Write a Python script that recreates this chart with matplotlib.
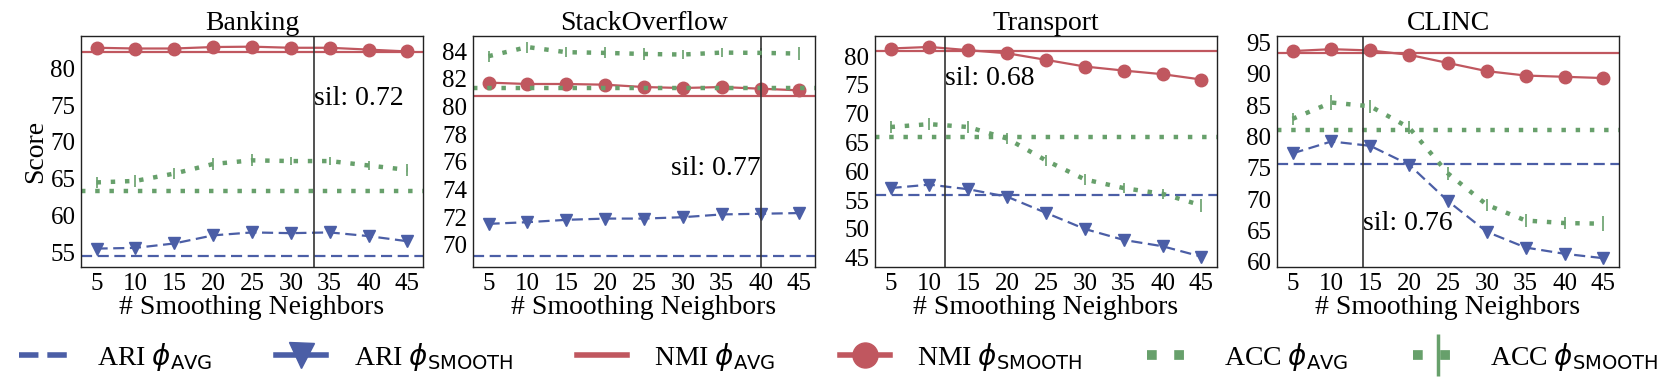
import matplotlib
matplotlib.use("Agg")
import matplotlib.pyplot as plt
from matplotlib.lines import Line2D
import numpy as np

plt.rcParams['font.family'] = ['Liberation Serif', 'DejaVu Sans']
plt.rcParams['mathtext.fontset'] = 'dejavusans'

# data
neighbors = [5, 10, 15, 20, 25, 30, 35, 40, 45]
datasets = ['Banking', 'StackOverflow', 'Transport', 'CLINC']

ari_avg = [54.45, 69.18, 55.9, 75.6]
nmi_avg = [82.27, 80.79, 80.98, 93.3]
acc_avg = [63.3, 81.32, 65.9, 81.0]

ari_smooth = [
    [55.5, 55.6, 56.2, 57.3, 57.7, 57.6, 57.7, 57.2, 56.5],
    [71.52, 71.64, 71.81, 71.9, 71.9, 72.0, 72.2, 72.25, 72.3],
    [57.1, 57.7, 56.9, 55.6, 52.8, 50.0, 48.1, 47.0, 45.2],
    [77.3, 79.2, 78.5, 75.5, 69.7, 64.8, 62.3, 61.3, 60.6],
]
nmi_smooth = [
    [82.8, 82.7, 82.7, 82.9, 82.95, 82.8, 82.8, 82.55, 82.3],
    [81.73, 81.63, 81.63, 81.58, 81.41, 81.34, 81.41, 81.29, 81.17],
    [81.33, 81.6, 81.04, 80.5, 79.36, 78.2, 77.5, 76.87, 75.94],
    [93.6, 93.9, 93.7, 93.0, 91.7, 90.4, 89.7, 89.5, 89.3],
]
acc_smooth = [
    [64.5, 64.7, 65.7, 67.0, 67.5, 67.4, 67.4, 66.8, 66.2],
    [83.64, 84.3, 83.93, 83.88, 83.8, 83.76, 83.9, 83.88, 83.83],
    [67.7, 68.2, 67.7, 65.7, 61.9, 58.6, 57.1, 56.1, 54.1],
    [82.8, 85.4, 84.8, 81.4, 74.1, 69.1, 66.6, 66.2, 66.1],
]
acc_err = [
    [0.8, 0.8, 0.7, 0.8, 0.8, 0.6, 0.6, 0.6, 0.8],
    [0.4, 0.4, 0.35, 0.4, 0.4, 0.35, 0.35, 0.35, 0.45],
    [1.0, 1.0, 1.0, 1.0, 1.0, 0.9, 0.9, 0.9, 1.1],
    [1.0, 1.2, 1.0, 1.0, 1.0, 1.0, 1.0, 1.0, 1.2],
]

sil_x = [33, 40, 12, 14]
sil_text = ['sil: 0.72', 'sil: 0.77', 'sil: 0.68', 'sil: 0.76']
sil_y = [0.70, 0.40, 0.79, 0.16]
sil_ha = ['left', 'right', 'left', 'left']

ylims = [(53.0, 84.4), (68.4, 85.1), (43.4, 83.5), (59.2, 96.0)]
yticks = [np.arange(55, 81, 5), np.arange(70, 85, 2), np.arange(45, 81, 5), np.arange(60, 96, 5)]

blue = '#4B5EA6'
red = '#C0575F'
green = '#67A06B'

fig = plt.figure(figsize=(16.78, 3.86), dpi=100)
lefts = [81, 473, 875, 1277]
w = 342 / 1678
bottom = 1 - 267 / 386
h = (267 - 36) / 386

for i, name in enumerate(datasets):
    ax = fig.add_axes([lefts[i] / 1678, bottom, w, h])
    ax.axhline(ari_avg[i], color=blue, ls='--', lw=1.6, dashes=(5, 2.5))
    ax.plot(neighbors, ari_smooth[i], color=blue, ls='--', lw=1.6, dashes=(5, 2.5),
            marker='v', markersize=9)
    ax.axhline(nmi_avg[i], color=red, lw=1.6)
    ax.plot(neighbors, nmi_smooth[i], color=red, lw=1.6, marker='o', markersize=9)
    ax.axhline(acc_avg[i], color=green, ls=(0, (1, 2.2)), lw=3.2)
    ax.errorbar(neighbors, acc_smooth[i], yerr=acc_err[i], color=green,
                ls=(0, (1, 2.2)), lw=3.2, elinewidth=1.2, capsize=0)
    ax.axvline(sil_x[i], color='#333333', lw=1.2)
    ax.text(sil_x[i], sil_y[i], sil_text[i], transform=ax.get_xaxis_transform(),
            ha=sil_ha[i], va='baseline', fontsize=20)

    ax.set_xlim(3, 47)
    ax.set_ylim(*ylims[i])
    ax.set_xticks(neighbors)
    ax.set_xticklabels([str(n) for n in neighbors])
    ax.set_yticks(yticks[i])
    ax.set_yticklabels([str(int(v)) for v in yticks[i]])
    ax.tick_params(length=0, labelsize=18, pad=4)
    ax.set_title(name, fontsize=20, pad=4)
    ax.set_xlabel('# Smoothing Neighbors', fontsize=20, labelpad=0)
    if i == 0:
        ax.set_ylabel('Score', fontsize=20, labelpad=2)
    for s in ax.spines.values():
        s.set_color('#222222')
        s.set_linewidth(1.0)

handles = [
    Line2D([], [], color=blue, ls='--', lw=4, dashes=(3.5, 1.6)),
    Line2D([], [], color=blue, ls='-', lw=4, marker='v', markersize=18),
    Line2D([], [], color=red, ls='-', lw=4),
    Line2D([], [], color=red, ls='-', lw=4, marker='o', markersize=18),
    Line2D([], [], color=green, ls=(0, (1, 1.8)), lw=7),
    (Line2D([], [], color=green, ls=(0, (1, 1.8)), lw=7),
     Line2D([], [], color=green, ls='none', marker='|', markersize=30, mew=2.5)),
]
labels = [r'ARI $\phi_{\mathrm{AVG}}$', r'ARI $\phi_{\mathrm{SMOOTH}}$',
          r'NMI $\phi_{\mathrm{AVG}}$', r'NMI $\phi_{\mathrm{SMOOTH}}$',
          r'ACC $\phi_{\mathrm{AVG}}$', r'ACC $\phi_{\mathrm{SMOOTH}}$']
fig.legend(handles, labels, loc='center', bbox_to_anchor=(0.5, 0.075), ncol=6,
           frameon=False, fontsize=20, handlelength=1.8, handletextpad=1.0,
           columnspacing=2.3)

fig.savefig('out.png', dpi=100)
